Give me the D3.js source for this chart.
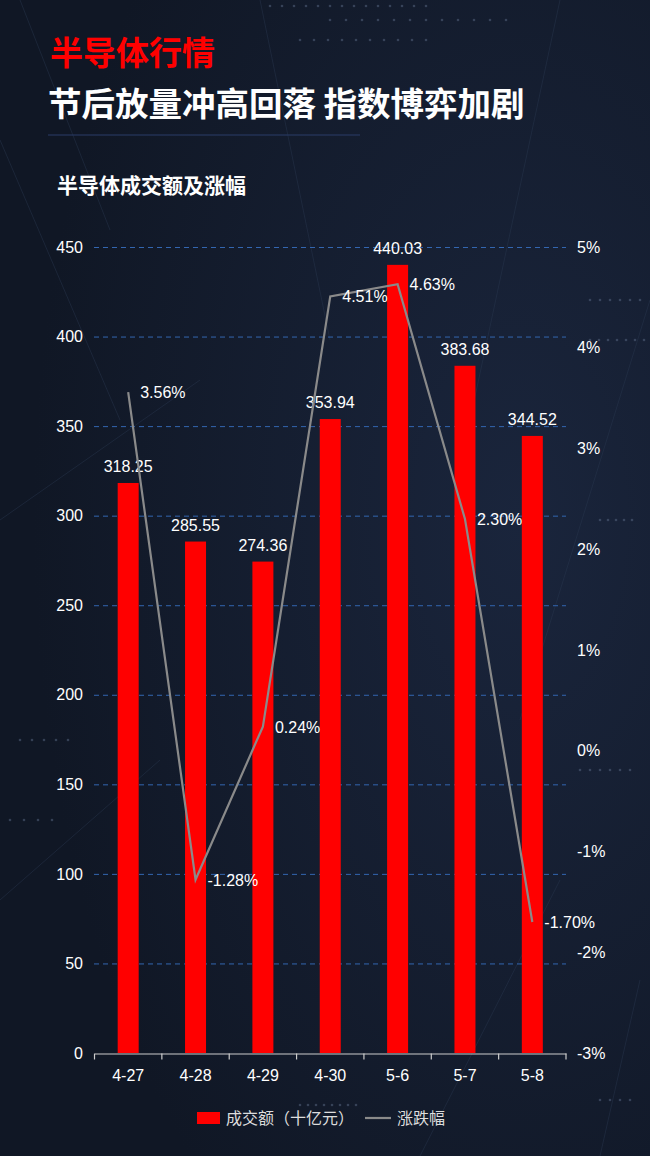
<!DOCTYPE html>
<html><head><meta charset="utf-8">
<script src="https://cdn.jsdelivr.net/npm/d3@7"></script>
<style>
html,body{margin:0;padding:0;background:#111a2a;}
svg{display:block;}
</style></head>
<body>
<svg id="c" width="650" height="1156"></svg>
<script>
const categories = ["4-27","4-28","4-29","4-30","5-6","5-7","5-8"];
const volume = [318.25,285.55,274.36,353.94,440.03,383.68,344.52];
const change = [3.56,-1.28,0.24,4.51,4.63,2.30,-1.70];
const leftTicks = [0,50,100,150,200,250,300,350,400,450];
const rightTicks = [-3,-2,-1,0,1,2,3,4,5];

const svg = d3.select("#c");
const W = 650, H = 1156;
const font = "'Liberation Sans', Arial, 'Noto Sans CJK SC', sans-serif";
const cjk = "'Noto Sans CJK SC', sans-serif";

// background
const defs = svg.append("defs");
const rg = defs.append("radialGradient").attr("id","bg").attr("cx","80%").attr("cy","45%").attr("r","75%");
rg.append("stop").attr("offset","0%").attr("stop-color","#1a253c");
rg.append("stop").attr("offset","100%").attr("stop-color","#101725");
svg.append("rect").attr("width",W).attr("height",H).attr("fill","url(#bg)");

// decorative faint lines
const deco = svg.append("g").attr("stroke","#2a3850").attr("stroke-width",1).attr("opacity",0.45);
[[0,140,120,420],[0,520,200,380],[260,0,330,340],[560,0,470,420],[650,300,520,720],[0,900,160,760],[420,1156,560,880],[640,980,600,1156],[20,0,110,230]]
  .forEach(l=>deco.append("line").attr("x1",l[0]).attr("y1",l[1]).attr("x2",l[2]).attr("y2",l[3]));
// decorative dot rows
const dots = svg.append("g").attr("fill","#5a6a85").attr("opacity",0.5);
[[270,6,14,12],[330,20,12,16],[300,40,10,14],[590,300,6,10],[590,340,8,9],[600,520,5,8],[20,740,5,12],[580,770,6,10],[10,820,4,14],[600,1100,4,10],[300,1105,8,8]]
  .forEach(r=>{for(let i=0;i<r[2];i++) dots.append("circle").attr("cx",r[0]+i*r[3]).attr("cy",r[1]).attr("r",1.3);});

// titles
svg.append("text").attr("x",50).attr("y",65).text("半导体行情")
  .attr("fill","#ff0000").attr("font-family",cjk).attr("font-weight","bold").attr("font-size",33);
svg.append("text").attr("x",48).attr("y",116).text("节后放量冲高回落 指数博弈加剧")
  .attr("fill","#ffffff").attr("font-family",cjk).attr("font-weight","bold").attr("font-size",33.5);
svg.append("line").attr("x1",48).attr("x2",360).attr("y1",135).attr("y2",135).attr("stroke","#2b3d68").attr("stroke-width",1.2);
svg.append("text").attr("x",57).attr("y",193).text("半导体成交额及涨幅")
  .attr("fill","#ffffff").attr("font-family",cjk).attr("font-weight","bold").attr("font-size",21);

// scales
const x = d3.scaleBand().domain(categories).range([94.5,566]);
const y = d3.scaleLinear().domain([0,450]).range([1053,247]);
const y2 = d3.scaleLinear().domain([-3,5]).range([1053,247]);

// gridlines
svg.append("g").selectAll("line").data(leftTicks.filter(t=>t>0)).join("line")
  .attr("x1",94).attr("x2",566).attr("y1",d=>y(d)+0.5).attr("y2",d=>y(d)+0.5)
  .attr("stroke","#3366b0").attr("stroke-width",1).attr("stroke-dasharray","5,4");

// left axis
const la = svg.append("g").attr("transform","translate(94,0)")
  .call(d3.axisLeft(y).tickValues(leftTicks).tickSize(0).tickPadding(11));
la.select(".domain").remove();
la.selectAll("text").attr("fill","#ffffff").attr("font-family",font).attr("font-size",16);

// right axis
const ra = svg.append("g").attr("transform","translate(566,0)")
  .call(d3.axisRight(y2).tickValues(rightTicks).tickSize(0).tickPadding(11).tickFormat(d=>d+"%"));
ra.select(".domain").remove();
ra.selectAll("text").attr("fill","#ffffff").attr("font-family",font).attr("font-size",16);

// bars
const bw = 21;
svg.append("g").selectAll("rect").data(volume).join("rect")
  .attr("x",(d,i)=>x(categories[i])+x.bandwidth()/2-bw/2)
  .attr("width",bw)
  .attr("y",d=>y(d)).attr("height",d=>y(0)-y(d))
  .attr("fill","#ff0000");

// bottom axis
const ba = svg.append("g").attr("transform","translate(0,1053.5)")
  .call(d3.axisBottom(x).tickSize(0).tickPadding(16));
ba.select(".domain").attr("stroke","#cccccc").attr("stroke-width",1.2);
ba.selectAll("text").attr("fill","#ffffff").attr("font-family",font).attr("font-size",16);
const edges = categories.map(c=>x(c)).concat([x(categories[categories.length-1])+x.bandwidth()]);
ba.append("g").selectAll("line").data(edges).join("line")
  .attr("x1",d=>d).attr("x2",d=>d).attr("y1",0).attr("y2",6).attr("stroke","#cccccc").attr("stroke-width",1.2);

// bar labels
svg.append("g").selectAll("text").data(volume).join("text")
  .attr("x",(d,i)=>x(categories[i])+x.bandwidth()/2)
  .attr("y",d=>y(d)-11)
  .attr("text-anchor","middle")
  .attr("fill","#ffffff").attr("font-family",font).attr("font-size",16)
  .text(d=>d.toFixed(2));

// line
const cx = (i)=>x(categories[i])+x.bandwidth()/2;
svg.append("path").datum(change)
  .attr("d",d3.line().x((d,i)=>cx(i)).y(d=>y2(d)))
  .attr("fill","none").attr("stroke","#8a8a8a").attr("stroke-width",2.2);

svg.append("g").selectAll("text").data(change).join("text")
  .attr("x",(d,i)=>cx(i)+12)
  .attr("y",d=>y2(d)+6)
  .attr("fill","#ffffff").attr("font-family",font).attr("font-size",16)
  .text(d=>d.toFixed(2)+"%");

// legend
const lg = svg.append("g");
lg.append("rect").attr("x",197).attr("y",1112).attr("width",23).attr("height",12).attr("fill","#ff0000");
lg.append("text").attr("x",226).attr("y",1124).text("成交额（十亿元）")
  .attr("fill","#dddddd").attr("font-family",cjk).attr("font-size",16);
lg.append("line").attr("x1",365).attr("x2",391).attr("y1",1118).attr("y2",1118).attr("stroke","#8a8a8a").attr("stroke-width",2.2);
lg.append("text").attr("x",397).attr("y",1124).text("涨跌幅")
  .attr("fill","#dddddd").attr("font-family",cjk).attr("font-size",16);
</script>
</body></html>
